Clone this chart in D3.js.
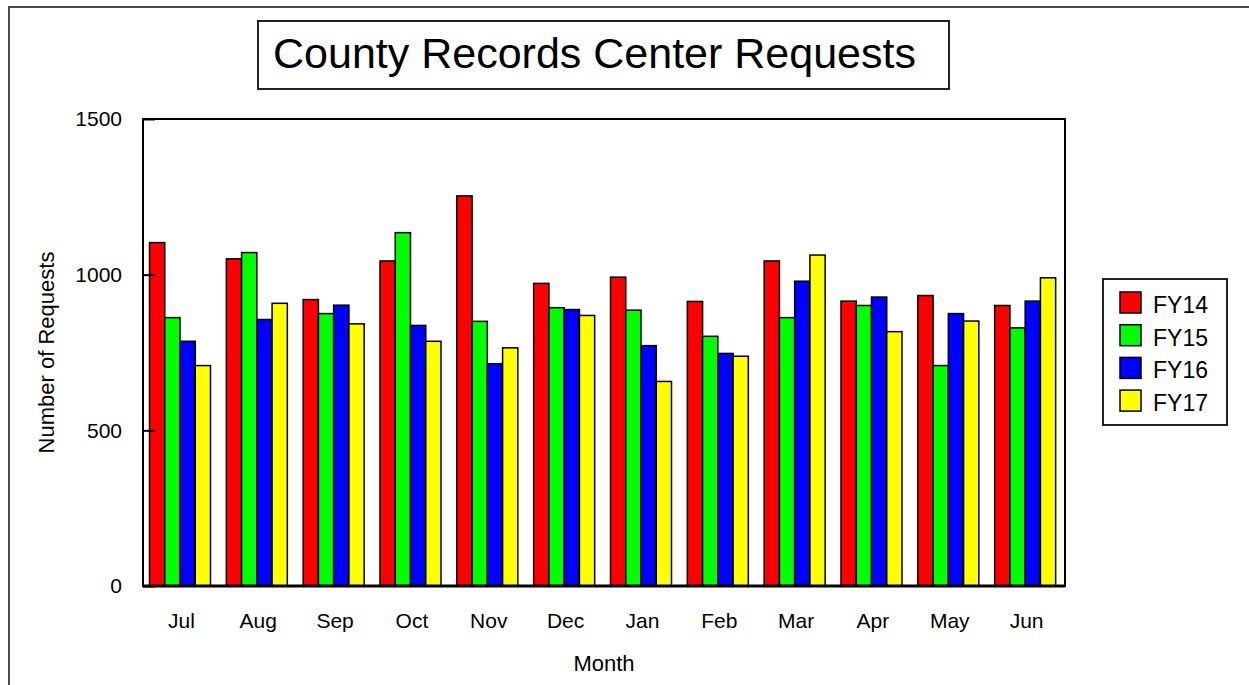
<!DOCTYPE html>
<html>
<head>
<meta charset="utf-8">
<script src="https://cdn.jsdelivr.net/npm/d3@7"></script>
<style>
  html, body { margin: 0; padding: 0; background: #fff; }
  svg { display: block; font-family: "Liberation Sans", Arial, sans-serif; }
</style>
</head>
<body>
<svg id="chart" width="1249" height="685"></svg>
<script>
const months = ["Jul","Aug","Sep","Oct","Nov","Dec","Jan","Feb","Mar","Apr","May","Jun"];
const seriesNames = ["FY14","FY15","FY16","FY17"];
const seriesColors = ["#ff0000","#00ff00","#0000ff","#ffff00"];
const fy14 = [1103,1051,920,1044,1253,972,992,914,1044,915,933,901];
const fy15 = [862,1071,875,1135,850,894,886,802,862,901,708,829];
const fy16 = [786,856,902,837,714,888,772,747,979,928,875,915];
const fy17 = [708,908,842,786,765,869,657,738,1063,817,851,990];
const yTicks = [0,500,1000,1500];
const titleText = "County Records Center Requests";
const xTitle = "Month";
const yTitle = "Number of Requests";

const seriesValues = [fy14, fy15, fy16, fy17];

const svg = d3.select("#chart");
const L = 143, R = 1065, T = 119, B = 586;

// outer frame
svg.append("path").attr("d", `M9,685 L9,7 L1249,7`)
  .attr("fill","none").attr("stroke","#4a4a4a").attr("stroke-width",2);

// title box
svg.append("rect").attr("x",258).attr("y",21).attr("width",691).attr("height",68)
  .attr("fill","#fff").attr("stroke","#222").attr("stroke-width",2);
svg.append("text").attr("x",273).attr("y",68).attr("font-size",43)
  .attr("fill","#000").text(titleText);

const x0 = d3.scaleBand().domain(months).range([L, R]).padding(0);
const x1 = d3.scaleBand().domain(seriesNames).range([6.5, 6.5 + 61]).padding(0);
const y = d3.scaleLinear().domain([0,1500]).range([B, T]);

// bars
const g = svg.append("g");
months.forEach((m, i) => {
  seriesNames.forEach((s, j) => {
    const v = seriesValues[j][i];
    g.append("rect")
      .attr("x", x0(m) + x1(s))
      .attr("y", y(v))
      .attr("width", x1.bandwidth())
      .attr("height", y(0) - y(v))
      .attr("fill", seriesColors[j])
      .attr("stroke", "#000")
      .attr("stroke-width", 1.5);
  });
});

// plot frame
svg.append("rect").attr("x",L).attr("y",T).attr("width",R-L).attr("height",B-T)
  .attr("fill","none").attr("stroke","#000").attr("stroke-width",2);
svg.append("line").attr("x1",L).attr("x2",R).attr("y1",B).attr("y2",B)
  .attr("stroke","#000").attr("stroke-width",3);

// y axis
const yAxis = svg.append("g").attr("transform",`translate(${L},0)`)
  .call(d3.axisLeft(y).tickValues(yTicks).tickSize(-12).tickPadding(21).tickFormat(d3.format("d")));
yAxis.select(".domain").remove();
yAxis.selectAll(".tick line").attr("stroke","#000").attr("stroke-width",2);
yAxis.selectAll("text").attr("font-size",21).attr("fill","#000")
  .attr("font-family","Liberation Sans, Arial, sans-serif");

// x axis
const xAxis = svg.append("g").attr("transform",`translate(0,${B})`)
  .call(d3.axisBottom(x0).tickSize(0).tickPadding(27));
xAxis.select(".domain").remove();
xAxis.selectAll("text").attr("font-size",21).attr("fill","#000")
  .attr("font-family","Liberation Sans, Arial, sans-serif");

// axis titles
svg.append("text").attr("x",(L+R)/2).attr("y",671).attr("text-anchor","middle")
  .attr("font-size",22).attr("fill","#000").text(xTitle);
svg.append("text").attr("transform",`translate(54,${(T+B)/2}) rotate(-90)`)
  .attr("text-anchor","middle").attr("font-size",22).attr("fill","#000").text(yTitle);

// legend
svg.append("rect").attr("x",1103).attr("y",279).attr("width",124).attr("height",146)
  .attr("fill","#fff").attr("stroke","#222").attr("stroke-width",2);
seriesNames.forEach((s, j) => {
  const yy = 292 + j * 32.7;
  svg.append("rect").attr("x",1120).attr("y",yy).attr("width",21).attr("height",21)
    .attr("fill",seriesColors[j]).attr("stroke","#000").attr("stroke-width",1.5);
  svg.append("text").attr("x",1153).attr("y",yy+21).attr("font-size",23)
    .attr("fill","#000").text(s);
});
</script>
</body>
</html>
